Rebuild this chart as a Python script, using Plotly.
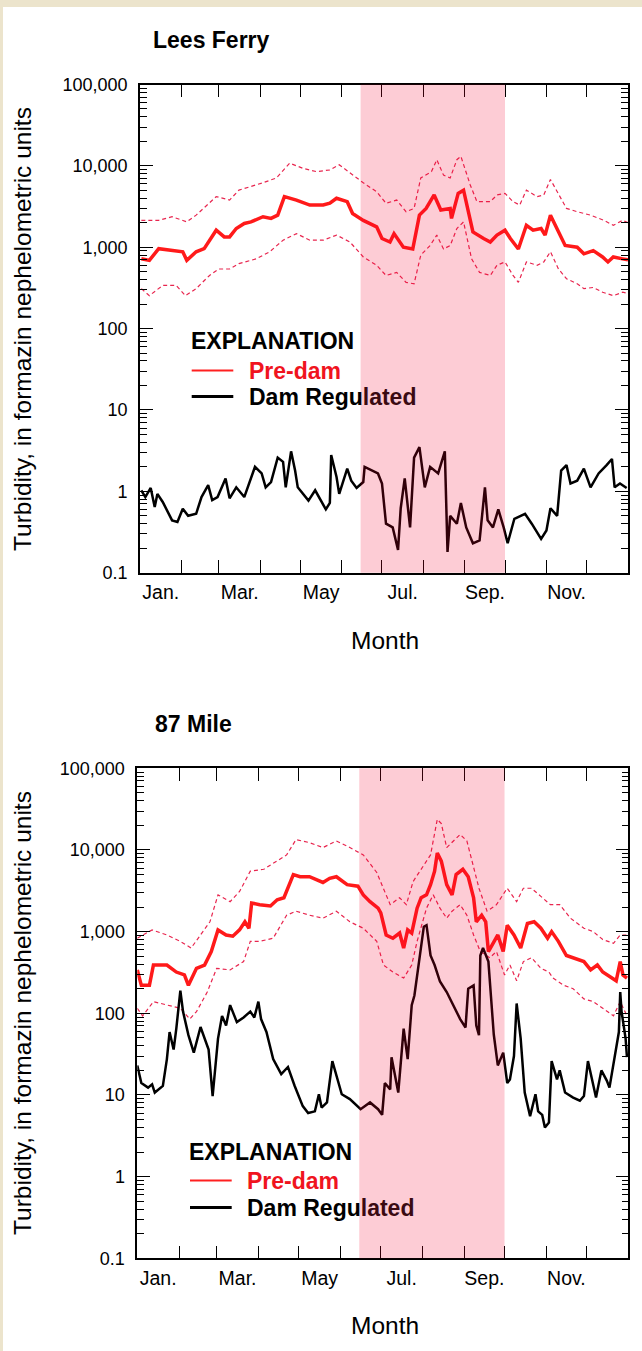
import plotly.graph_objects as go

# ------------------------------------------------------------------ data
# x values are day of year (0 = Jan 1); y values are turbidity (FNU)

# Lees Ferry, pre-dam median
lf_med_day = [1, 7, 14, 27, 32, 35, 42, 48, 57, 63, 67, 72, 78, 83, 92, 98, 103, 108, 117, 127,
              137, 142, 147, 155, 159, 167, 177, 181, 187, 190, 197, 204, 209, 214, 220, 225, 232, 233, 238, 242,
              249, 257, 262, 267, 273, 277, 283, 289, 294, 300, 303, 307, 313, 318, 327, 332, 339, 346, 350, 354,
              361, 365]
lf_med = [720, 690, 960, 910, 880, 690, 880, 960, 1620, 1340, 1340, 1700, 1960, 2050, 2370, 2260, 2480, 4190, 3800, 3300,
          3300, 3470, 4000, 3630, 2600, 2140, 1780, 1280, 1160, 1470, 1000, 950, 2480, 3000, 4390, 2870, 3000, 2260, 4590, 5030,
          1540, 1280, 1160, 1410, 1620, 1280, 950, 1860, 1620, 1700, 1410, 2480, 1540, 1050, 1000, 830, 910, 760, 660, 760,
          720, 700]

# Lees Ferry, pre-dam upper envelope
lf_up_day = [1, 14, 24, 35, 42, 57, 67, 74, 92, 102, 112, 122, 132, 142, 149, 159, 167, 177, 184, 192,
             199, 205, 210, 218, 222, 227, 232, 237, 240, 247, 252, 262, 267, 273, 279, 284, 289, 297, 302, 307,
             312, 319, 327, 337, 347, 354, 361, 365]
lf_up = [2140, 2140, 2370, 2050, 2480, 4190, 3800, 5030, 6200, 7100, 10800, 9300, 8500, 8900, 10300, 7700, 6200, 4800, 3470, 3800,
         2730, 3000, 7100, 8500, 11900, 7700, 7100, 11900, 13100, 5830, 3630, 3630, 4390, 4590, 3630, 3300, 5030, 4190, 4390, 6800,
         4800, 3000, 2730, 2480, 2140, 1860, 2140, 2000]

# Lees Ferry, pre-dam lower envelope
lf_lo_day = [1, 7, 17, 27, 34, 42, 52, 59, 67, 74, 87, 97, 107, 117, 127, 137, 147, 157, 167, 177,
             184, 192, 199, 205, 210, 217, 222, 227, 232, 237, 242, 248, 254, 262, 267, 273, 279, 283, 289, 297,
             302, 307, 313, 319, 327, 332, 339, 346, 354, 361, 365]
lf_lo = [310, 254, 340, 340, 254, 310, 450, 540, 540, 630, 720, 880, 1220, 1470, 1220, 1220, 1410, 1160, 760, 600,
         450, 490, 370, 355, 800, 1050, 1410, 950, 1050, 1700, 2050, 720, 490, 450, 600, 660, 450, 370, 660, 600,
         660, 880, 540, 410, 355, 310, 320, 280, 254, 280, 270]

# Lees Ferry, dam regulated
lf_reg_day = [1, 4, 8, 11, 13, 17, 24, 28, 32, 36, 42, 46, 51, 54, 58, 64, 67, 72, 78, 86,
              91, 94, 98, 103, 107, 109, 113, 116, 118, 126, 131, 136, 139, 142, 143, 147, 149, 155, 158, 162,
              167, 168, 174, 178, 181, 184, 189, 193, 195, 198, 202, 204, 205, 209, 213, 217, 223, 228, 230, 232,
              237, 240, 244, 249, 254, 258, 260, 264, 268, 272, 275, 280, 288, 293, 300, 304, 307, 312, 315, 319,
              322, 327, 332, 337, 343, 349, 353, 355, 359, 364]
lf_reg = [1.03, 0.85, 1.1, 0.64, 0.93, 0.74, 0.44, 0.42, 0.61, 0.50, 0.53, 0.85, 1.19, 0.78, 0.85, 1.44, 0.82, 1.12, 0.85, 2.0,
          1.66, 1.12, 1.3, 2.6, 2.3, 1.12, 3.1, 1.8, 1.12, 0.77, 1.03, 0.72, 0.60, 0.72, 2.8, 1.5, 0.93, 1.9, 1.35, 1.1,
          1.3, 2.0, 1.8, 1.66, 1.25, 0.40, 0.36, 0.19, 0.62, 1.44, 0.36, 1.66, 2.6, 3.5, 1.12, 2.0, 1.66, 3.1, 0.18, 0.5,
          0.40, 0.72, 0.36, 0.23, 0.25, 1.12, 0.44, 0.36, 0.60, 0.36, 0.23, 0.46, 0.53, 0.40, 0.26, 0.33, 0.62, 0.5, 1.8, 2.1,
          1.25, 1.35, 1.9, 1.12, 1.66, 2.1, 2.5, 1.12, 1.25, 1.1]

# 87 Mile, pre-dam median
m87_med_day = [0, 3, 9, 12, 22, 29, 35, 38, 44, 50, 55, 60, 66, 71, 76, 80, 83, 85, 91, 99,
               104, 109, 116, 121, 128, 133, 138, 143, 148, 156, 164, 168, 173, 179, 181, 185, 190, 195, 198, 201,
               204, 208, 211, 215, 218, 221, 223, 226, 230, 234, 237, 242, 246, 250, 252, 256, 259, 261, 265, 268,
               272, 275, 280, 285, 290, 295, 300, 305, 308, 313, 319, 324, 332, 337, 342, 346, 353, 356, 359, 361,
               364]
m87_med = [340, 220, 220, 390, 390, 320, 295, 220, 355, 390, 570, 1050, 910, 880, 1050, 1320, 1100, 2240, 2140, 2060,
           2460, 2600, 5000, 4700, 4700, 4350, 4000, 4500, 4700, 3760, 3600, 2820, 2330, 1940, 1700, 910, 830, 960, 630, 1050,
           960, 1940, 2600, 2820, 3760, 5500, 9200, 7300, 3760, 2820, 5000, 5800, 4700, 2600, 1320, 1590, 1320, 570, 760, 910,
           570, 1200, 910, 630, 1260, 1320, 1100, 830, 1000, 760, 510, 480, 430, 340, 390, 320, 270, 250, 430, 295,
           270]

# 87 Mile, pre-dam upper envelope
m87_up_day = [0, 4, 11, 22, 32, 40, 47, 54, 60, 69, 76, 84, 94, 104, 111, 118, 128, 138, 148, 158,
              168, 178, 181, 188, 195, 200, 205, 210, 218, 223, 226, 230, 235, 240, 245, 250, 254, 260, 267, 275,
              282, 287, 293, 300, 307, 314, 322, 332, 339, 346, 354, 359, 364]
m87_up = [830, 910, 1050, 910, 760, 630, 910, 1320, 2820, 2330, 3100, 5500, 5800, 7300, 8700, 13400, 12300, 10700, 12900, 10700,
          8700, 5300, 4100, 2140, 2600, 2140, 4100, 5500, 8700, 23700, 21000, 10700, 12900, 15500, 12900, 6000, 3400, 1780, 2140, 3400,
          2330, 3400, 3400, 2700, 2140, 2140, 1460, 1100, 1000, 800, 720, 910, 910]

# 87 Mile, pre-dam lower envelope
m87_lo_day = [0, 4, 12, 22, 32, 39, 44, 52, 59, 69, 79, 84, 91, 101, 111, 118, 128, 138, 148, 158,
              168, 178, 183, 190, 198, 204, 208, 215, 220, 225, 230, 234, 240, 245, 250, 255, 262, 267, 273, 277,
              282, 287, 293, 300, 306, 309, 317, 324, 332, 339, 346, 354, 359, 364]
m87_lo = [115, 93, 139, 126, 115, 85, 105, 182, 355, 340, 430, 760, 760, 830, 1590, 1780, 1590, 1460, 1780, 1320,
          1100, 760, 390, 320, 270, 390, 760, 1940, 2820, 1940, 1460, 1780, 2140, 1590, 910, 570, 480, 570, 295, 390,
          250, 430, 480, 355, 320, 270, 220, 200, 150, 139, 115, 93, 139, 93]

# 87 Mile, dam regulated
m87_reg_day = [0, 3, 8, 11, 13, 19, 22, 24, 27, 29, 32, 34, 38, 42, 47, 50, 53, 56, 60, 63,
               66, 69, 74, 79, 84, 87, 90, 92, 96, 101, 107, 112, 117, 123, 127, 132, 135, 137, 141, 145,
               148, 152, 158, 166, 173, 179, 182, 184, 188, 189, 194, 198, 201, 204, 206, 213, 215, 218, 221, 225,
               230, 235, 240, 244, 246, 250, 252, 254, 255, 257, 261, 265, 268, 272, 275, 277, 280, 282, 285, 288,
               292, 296, 298, 301, 303, 306, 308, 312, 314, 318, 324, 329, 332, 335, 338, 341, 345, 349, 351, 354,
               358, 359, 360, 363, 364]
m87_reg = [23, 14, 12.3, 13.5, 10.7, 12.9, 27.5, 59, 36, 65, 190, 105, 54, 33, 68, 49, 36, 9.7, 49, 93,
           71, 126, 78, 89, 105, 89, 139, 85, 59, 27.5, 18, 22, 12.9, 7.3, 6.0, 6.3, 10.2, 7, 8.1, 26,
           17.4, 10.2, 8.9, 6.7, 8.1, 6.7, 5.7, 14, 11.7, 29, 10.7, 65, 27.5, 126, 165, 1150, 1200, 510, 390, 245,
           182, 126, 85, 67, 200, 220, 71, 54, 510, 630, 430, 55, 23, 33, 14, 15.5, 30, 132, 49, 10.7,
           5.5, 10.2, 6.3, 5.7, 4.0, 4.6, 26, 15.5, 20, 10.7, 9.3, 8.5, 9.7, 26, 15.5, 9.3, 20, 15, 12.3, 25,
           59, 182, 105, 49, 29]

# shaded season (Jun 15 - Sep 30), day of year
shade_days = [165, 273]

month_starts = [0, 31, 59, 90, 120, 151, 181, 212, 243, 273, 304, 334, 365]
month_labels = ["Jan.", "", "Mar.", "", "May", "", "Jul.", "", "Sep.", "", "Nov.", ""]
y_tickvals = [0.1, 1, 10, 100, 1000, 10000, 100000]
y_ticktext = ["0.1", "1", "10", "100", "1,000", "10,000", "100,000"]

panels = [
    dict(title="Lees Ferry", med_d=lf_med_day, med=lf_med, up_d=lf_up_day, up=lf_up,
         lo_d=lf_lo_day, lo=lf_lo, reg_d=lf_reg_day, reg=lf_reg),
    dict(title="87 Mile", med_d=m87_med_day, med=m87_med, up_d=m87_up_day, up=m87_up,
         lo_d=m87_lo_day, lo=m87_lo, reg_d=m87_reg_day, reg=m87_reg),
]

# ------------------------------------------------------------------ layout geometry (pixels)
W, H = 642, 1351
px = lambda v: v / W
py = lambda v: 1 - v / H

geo = [
    dict(x0=140, x1=628, top=84.5, bot=572.7, title_x=151, title_y=40,
         ytitle_y=329, month_y=640, leg_x=189, line_x0=191.7, line_x1=233.3, text_x=246.5,
         leg_y=(341, 371, 397)),
    dict(x0=137.3, x1=628.3, top=768.3, bot=1258.3, title_x=153, title_y=724,
         ytitle_y=1013, month_y=1325, leg_x=187, line_x0=190, line_x1=231.7, text_x=245,
         leg_y=(1152, 1181, 1208)),
]

RED = "#ff1a1a"
DASH_RED = "#e8264f"
BLACK = "#000000"
SANS = "Liberation Sans, Arial, sans-serif"

fig = go.Figure()
shapes = []
annotations = []

# white panel over beige border
shapes.append(dict(type="rect", xref="paper", yref="paper", x0=px(3), x1=1.0, y0=0, y1=py(7),
                   fillcolor="white", line=dict(width=0), layer="below"))

minor_y = [m * 10 ** k for k in range(-1, 5) for m in range(2, 10)]
mid_months = [(month_starts[i] + month_starts[i + 1]) / 2 for i in range(12)]

for i, (p, g) in enumerate(zip(panels, geo)):
    xa = "x" if i == 0 else f"x{i+1}"
    ya = "y" if i == 0 else f"y{i+1}"
    xkey = "xaxis" if i == 0 else f"xaxis{i+1}"
    ykey = "yaxis" if i == 0 else f"yaxis{i+1}"

    for xs, ys in ((p["up_d"], p["up"]), (p["lo_d"], p["lo"])):
        fig.add_trace(go.Scatter(x=xs, y=ys, mode="lines", xaxis=xa, yaxis=ya, showlegend=False,
                                 line=dict(color=DASH_RED, width=1.2, dash="4px,3px"),
                                 hoverinfo="skip"))
    fig.add_trace(go.Scatter(x=p["med_d"], y=p["med"], mode="lines", xaxis=xa, yaxis=ya, showlegend=False,
                             line=dict(color=RED, width=3.5), hoverinfo="skip"))
    fig.add_trace(go.Scatter(x=p["reg_d"], y=p["reg"], mode="lines", xaxis=xa, yaxis=ya, showlegend=False,
                             line=dict(color=BLACK, width=2.5), hoverinfo="skip"))

    fig.update_layout(**{
        xkey: dict(domain=[px(g["x0"]), px(g["x1"])], anchor=ya, range=[0, 365],
                   tickmode="array", tickvals=mid_months, ticktext=month_labels,
                   ticks="", showgrid=False, zeroline=False, automargin=False,
                   showline=True, linecolor="black", linewidth=1.6, mirror="allticks",
                   tickfont=dict(family=SANS, size=19.5, color="black"), ticklabelstandoff=1,
                   minor=dict(tickmode="array", tickvals=month_starts[1:-1], ticks="inside",
                              ticklen=13, tickwidth=1.3, tickcolor="black", showgrid=False)),
        ykey: dict(domain=[py(g["bot"]), py(g["top"])], anchor=xa, type="log", range=[-1, 5],
                   tickmode="array", tickvals=y_tickvals, ticktext=y_ticktext,
                   ticks="inside", ticklen=13, tickwidth=1.3, tickcolor="black",
                   showgrid=False, zeroline=False, automargin=False,
                   showline=True, linecolor="black", linewidth=1.6, mirror="allticks",
                   tickfont=dict(family=SANS, size=18, color="black"), ticklabelstandoff=7,
                   minor=dict(tickmode="array", tickvals=minor_y, ticks="inside",
                              ticklen=7, tickwidth=1.2, tickcolor="black", showgrid=False)),
    })

    # shaded season
    shapes.append(dict(type="rect", xref=xa, yref=f"{ya} domain", x0=shade_days[0], x1=shade_days[1],
                       y0=0, y1=1, fillcolor="rgba(245,0,45,0.2)", line=dict(width=0), layer="above"))

    # panel title
    annotations.append(dict(text="<b>" + p["title"] + "</b>", xref="paper", yref="paper",
                            x=px(g["title_x"]), y=py(g["title_y"]), xanchor="left", yanchor="middle",
                            showarrow=False, font=dict(family=SANS, size=23, color="black")))
    # axis titles
    annotations.append(dict(text="Turbidity, in formazin nephelometric units", xref="paper", yref="paper",
                            x=px(23), y=py(g["ytitle_y"]), xanchor="center", yanchor="middle",
                            textangle=-90, showarrow=False, font=dict(family=SANS, size=24.5, color="black")))
    annotations.append(dict(text="Month", xref="paper", yref="paper",
                            x=px(385), y=py(g["month_y"]), xanchor="center", yanchor="middle",
                            showarrow=False, font=dict(family=SANS, size=24.5, color="black")))
    # explanation block
    ly = g["leg_y"]
    annotations.append(dict(text="<b>EXPLANATION</b>", xref="paper", yref="paper",
                            x=px(g["leg_x"]), y=py(ly[0]), xanchor="left", yanchor="middle",
                            showarrow=False, font=dict(family=SANS, size=23, color="black")))
    annotations.append(dict(text="<b>Pre-dam</b>", xref="paper", yref="paper",
                            x=px(g["text_x"]), y=py(ly[1]), xanchor="left", yanchor="middle",
                            showarrow=False, font=dict(family=SANS, size=23, color="#f0141e")))
    annotations.append(dict(text="<b>Dam Regu<span style='color:#3a0a12'>lated</span></b>",
                            xref="paper", yref="paper",
                            x=px(g["text_x"]), y=py(ly[2]), xanchor="left", yanchor="middle",
                            showarrow=False, font=dict(family=SANS, size=23, color="black")))
    shapes.append(dict(type="line", xref="paper", yref="paper", x0=px(g["line_x0"]), x1=px(g["line_x1"]),
                       y0=py(ly[1] - 0.5), y1=py(ly[1] - 0.5), line=dict(color="#ff2020", width=2)))
    shapes.append(dict(type="line", xref="paper", yref="paper", x0=px(g["line_x0"]), x1=px(g["line_x1"]),
                       y0=py(ly[2] - 0.5), y1=py(ly[2] - 0.5), line=dict(color="black", width=3)))

fig.update_layout(width=W, height=H, autosize=False, margin=dict(l=0, r=0, t=0, b=0, pad=0),
                  paper_bgcolor="#ece4cc", plot_bgcolor="rgba(0,0,0,0)",
                  shapes=shapes, annotations=annotations, showlegend=False,
                  font=dict(family=SANS, color="black"))

fig.write_html("out.html",
               config={"displayModeBar": False, "responsive": False},
               post_script="document.body.style.margin='0';document.body.style.overflow='hidden';")
